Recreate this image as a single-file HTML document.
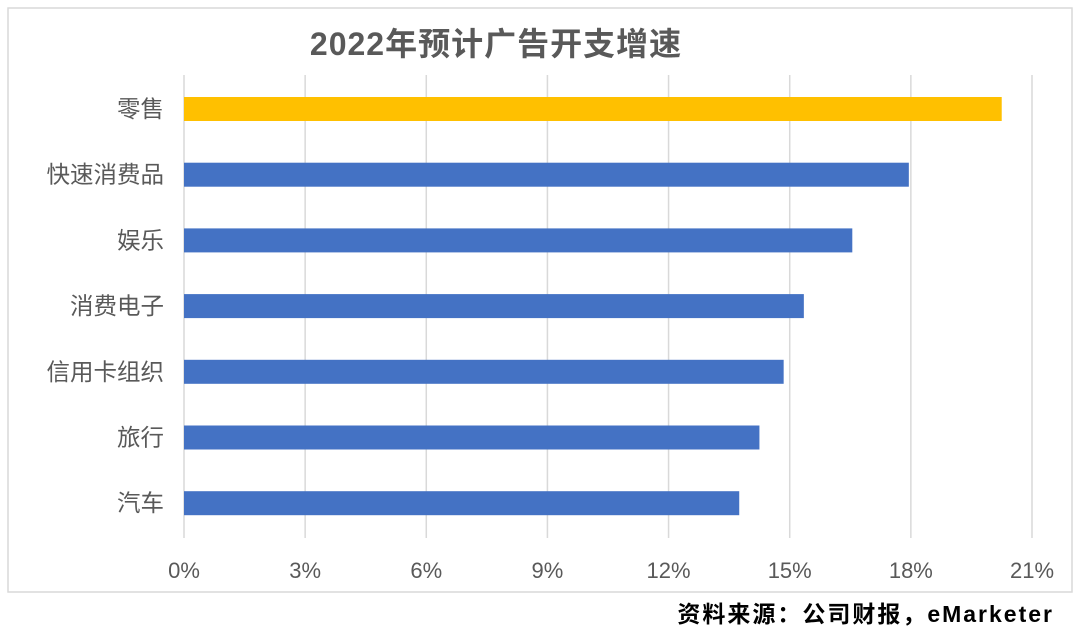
<!DOCTYPE html>
<html><head><meta charset="utf-8"><style>
body{margin:0;background:#fff;width:1080px;height:629px;overflow:hidden;font-family:"Liberation Sans","Noto Sans CJK SC",sans-serif}
</style></head><body>
<svg width="1080" height="629">
<rect x="8" y="8" width="1064" height="584" fill="#fff" stroke="#d9d9d9" stroke-width="1.5"/>
<text x="496" y="55" text-anchor="middle" font-size="32" font-weight="bold" fill="#595959" letter-spacing="1">2022年预计广告开支增速</text>
<g id="grid"></g><g id="bars"></g><g id="labels"></g>
<text x="1054" y="622" text-anchor="end" font-size="23" font-weight="bold" fill="#000" letter-spacing="2">资料来源：公司财报，eMarketer</text>
</svg>
<script>
const categories=["零售","快速消费品","娱乐","消费电子","信用卡组织","旅行","汽车"];
const values=[20.25,17.95,16.55,15.35,14.85,14.25,13.75];
const ticks=[0,3,6,9,12,15,18,21];
const tickLabels=["0%","3%","6%","9%","12%","15%","18%","21%"];
const NS="http://www.w3.org/2000/svg";
const x=v=>184+(v/21)*(1032-184);
const y=i=>109+i*65.7;
function mk(t,a,p,txt){const e=document.createElementNS(NS,t);for(const k in a)e.setAttribute(k,a[k]);if(txt!==undefined)e.textContent=txt;p.appendChild(e);return e;}
const g=document.getElementById('grid'),b=document.getElementById('bars'),l=document.getElementById('labels');
ticks.forEach((t,i)=>{
const ln=mk('line',{x1:x(t),x2:x(t),y1:75,y2:538,stroke:'#d9d9d9','stroke-width':1.5},g);


const tx=mk('text',{x:x(t),y:578,'text-anchor':'middle','font-size':22,fill:'#595959'},l,tickLabels[i]);


});
categories.forEach((c,i)=>{
const r=mk('rect',{x:x(0),y:y(i)-12,width:x(values[i])-x(0),height:24,fill:i===0?'#ffc000':'#4472c4'},b);


const tx=mk('text',{x:164,y:y(i)+8,'text-anchor':'end','font-size':23.5,fill:'#595959'},l,c);


});
</script>
</body></html>
